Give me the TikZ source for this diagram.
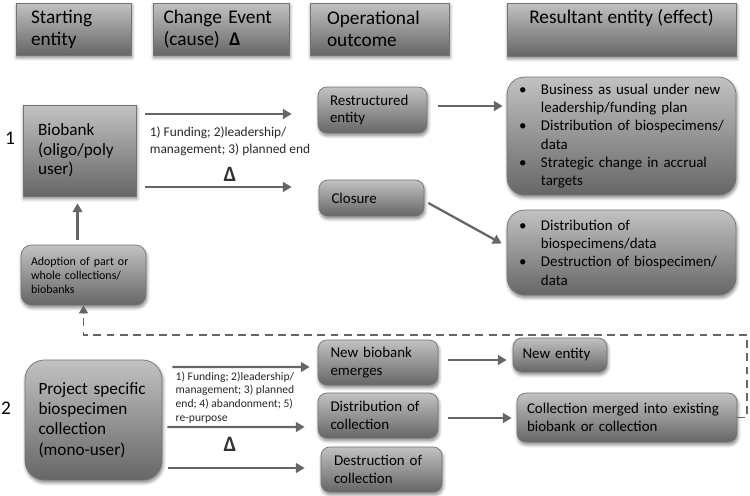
\documentclass[tikz,border=0pt]{standalone}
\usepackage{fontspec}
\setmainfont{Carlito}
\usepackage{tikz}
\usetikzlibrary{arrows.meta}
\usetikzlibrary{calc,shadows.blur,positioning}

\newcommand{\bitem}{\makebox[1.47em][l]{\textbullet}}
\newcommand{\bcont}{\hspace*{1.47em}}

\begin{document}
\begin{tikzpicture}[x=0.02cm, y=-0.02cm,
    box/.style={draw=black!55, top color=black!24, bottom color=black!60, align=left,
      blur shadow={shadow xshift=0.5pt, shadow yshift=-1.5pt, shadow blur steps=6, shadow opacity=50}},
    head/.style={box, font=\fontsize{11}{12.5}\selectfont},
    item/.style={box, rounded corners=5pt, font=\fontsize{8.5}{10}\selectfont},
    big/.style={box, rounded corners=10pt, font=\fontsize{8.5}{10.4}\selectfont},
    link/.style={draw=black!60, line width=1.3pt, -{Triangle[length=5pt, width=5.5pt]}},
    cause/.style={align=left, text=black!85},
    delta/.style={font=\fontsize{12.5}{12.5}\selectfont\bfseries, text=black!80},
  ]
    \useasboundingbox (0,0) rectangle (750,496);

    \node[head, text width=1.7cm, inner xsep=0.3cm, minimum height=1.04cm] (hstart) at (73.5,29) {Starting\\entity};
    \node[head, text width=2.3cm, inner xsep=0.21cm, minimum height=1.04cm] (hchange) at (221,29) {Change Event\\(cause)\enspace\textbf{Δ}};
    \node[head, text width=2.1cm, inner xsep=0.34cm, minimum height=1.04cm] (houtcome) at (379.5,29) {Operational\\outcome};
    \node[head, minimum width=4.58cm, minimum height=1.06cm, text depth=0.52cm, inner ysep=3pt] (hresult) at (621.5,29.5) {Resultant entity (effect)};

    \node at (10,138) (one) {\fontsize{11}{11}\selectfont 1};
    \node at (6,408) (two) {\fontsize{11}{11}\selectfont 2};

    \node[box, text width=1.66cm, inner xsep=0.3cm, minimum height=1.82cm, font=\fontsize{9.8}{11.2}\selectfont] (biobank) at (79.5,150.5) {Biobank\\(oligo/poly\\user)};
    \node[box, rounded corners=6pt, text width=2.1cm, inner xsep=0.2cm, minimum height=1.2cm, font=\fontsize{6.8}{8}\selectfont] (adopt) at (83.5,275) {Adoption of part or\\whole collections/\\biobanks};

    \node[item, text width=1.7cm, inner xsep=0.24cm, minimum height=0.92cm] (restr) at (372.5,110) {Restructured\\entity};
    \node[item, text width=1.6cm, inner xsep=0.25cm, minimum height=0.72cm] (closure) at (371.5,198) {Closure};

    \node[big, text width=4.1cm, inner xsep=0.24cm, minimum height=2.36cm] (res1) at (621.5,136) {\bitem Business as usual under new\\\bcont leadership/funding plan\\\bitem Distribution of biospecimens/\\\bcont data\\\bitem Strategic change in accrual\\\bcont targets};
    \node[big, text width=4.1cm, inner xsep=0.24cm, minimum height=1.7cm] (res2) at (621.5,252.5) {\bitem Distribution of\\\bcont biospecimens/data\\\bitem Destruction of biospecimen/\\\bcont data};

    \draw[link] ($(biobank.east)+(9,-36.5)$) -- ($(restr.west)+(-26,4)$);
    \draw[link] ($(biobank.east)+(9,36.5)$) -- ($(closure.west)+(-27,-11)$);
    \node[cause, font=\fontsize{7.6}{9.6}\selectfont] (cause1) at (230,141.5) {1) Funding; 2)leadership/\\management; 3) planned end};
    \node[delta] (delta1) at (230,174) {Δ};

    \draw[link] ($(adopt.north -| biobank.south)+(-2,-5)$) -- ($(biobank.south)+(-2,7)$);

    \draw[link] ($(restr.east)+(11,-4)$) -- ($(restr.east -| res1.west)+(-4,-4)$);
    \draw[link] ($(closure.east)+(4,5)$) -- ($(res2.west)+(-5,-9)$);

    \node[box, rounded corners=11pt, text width=2.2cm, inner xsep=0.27cm, minimum height=2.4cm, font=\fontsize{9.8}{11.5}\selectfont] (project) at (93.5,420) {Project specific\\biospecimen\\collection\\(mono-user)};

    \node[item, text width=1.9cm, inner xsep=0.25cm, minimum height=0.9cm] (newbb) at (378,362.5) {New biobank\\emerges};
    \node[item, text width=1.9cm, inner xsep=0.25cm, minimum height=0.9cm] (distr) at (378,415.5) {Distribution of\\collection};
    \node[item, text width=1.9cm, inner xsep=0.26cm, minimum height=0.9cm] (destr) at (381.5,469.5) {Destruction of\\collection};

    \node[item, text width=1.5cm, inner xsep=0.19cm, minimum height=0.68cm] (newent) at (560,355) {New entity};
    \node[item, text width=4.0cm, inner xsep=0.2cm, minimum height=0.98cm] (merged) at (627,417.5) {Collection merged into existing\\biobank or collection};

    \draw[link] ($(project.east)+(10,-53)$) -- ($(newbb.west)+(-8,4.5)$);
    \draw[link] ($(project.east)+(5,7)$) -- ($(distr.west)+(-13,11.5)$);
    \draw[link] ($(project.east)+(6,48)$) -- ($(destr.west)+(-16,-1.5)$);
    \node[cause, font=\fontsize{6.6}{7.8}\selectfont] (cause2) at (235,397.5) {1) Funding; 2)leadership/\\management; 3) planned\\end; 4) abandonment; 5)\\re-purpose};
    \node[delta] (delta2) at (230,444) {Δ};

    \draw[link] ($(newbb.east)+(10,-2.5)$) -- ($(newent.west)+(-6,5)$);
    \draw[link] ($(distr.east)+(10,2.5)$) -- ($(merged.west)+(-5,0.5)$);

    \coordinate (corner) at (747,335);
    \draw[draw=black!60, line width=1.1pt, dash pattern=on 4.5pt off 3pt, -{Triangle[length=4.5pt, width=5pt]}]
      (merged.east) -- (corner |- merged.east) -- (corner) -- (corner -| adopt.south) -- (adopt.south);
\end{tikzpicture}
\end{document}
